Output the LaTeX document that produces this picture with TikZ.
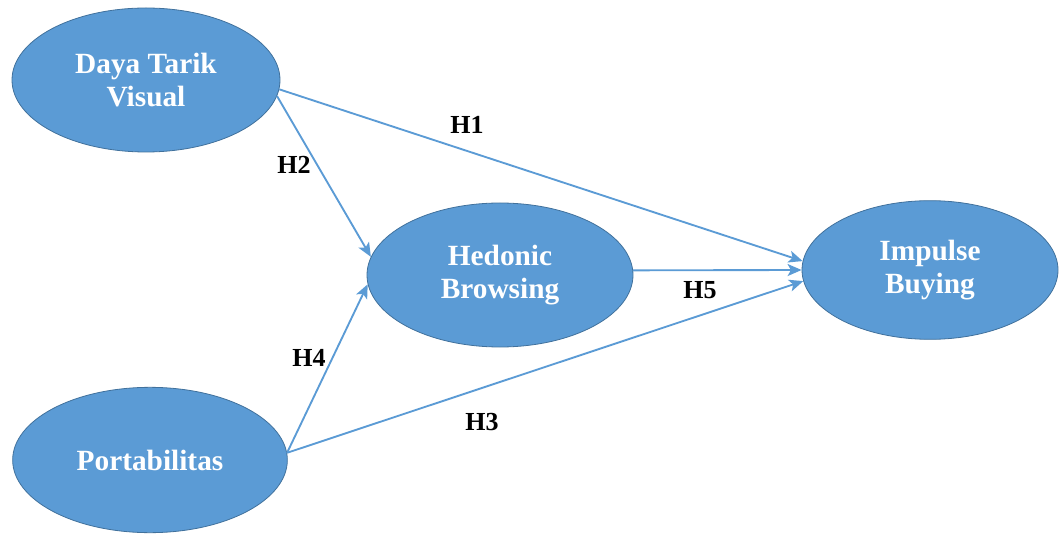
\documentclass[tikz,border=0pt]{standalone}
\usepackage{fontspec}
\setmainfont{Liberation Serif}
\usetikzlibrary{shapes.geometric,arrows.meta}
\definecolor{konstruk}{HTML}{5B9BD5}
\definecolor{tepi}{HTML}{41719C}
\tikzset{
  variabel/.style={ellipse,draw=tepi,line width=0.6pt,fill=konstruk,text=white,
    font=\fontsize{22}{25}\selectfont\bfseries,align=center,inner sep=0pt},
  jalur/.style={draw=konstruk,line width=1.4pt,-{Stealth[length=10.5pt,width=9pt,inset=2.5pt]}},
  hipotesis/.style={font=\fontsize{19.5}{22}\selectfont\bfseries,inner sep=0pt}
}
\begin{document}
\begin{tikzpicture}[x=0.75pt,y=-0.75pt]
  \useasboundingbox (0,0) rectangle (1059,534);
  % konstruk
  \node[variabel,minimum width=201pt,minimum height=108pt] (dtv) at (146,80) {Daya Tarik\\Visual};
  \node[variabel,minimum width=199.5pt,minimum height=108pt] (hb) at (500,275) {Hedonic\\Browsing};
  \node[variabel,minimum width=192pt,minimum height=104pt] (ib) at (930,270) {Impulse\\Buying};
  \node[variabel,minimum width=206pt,minimum height=109pt] (port) at (150,460) {Portabilitas};
  % jalur hipotesis
  \draw[jalur] (dtv.-4) -- (ib.176);
  \draw[jalur] (dtv.-7) -- (hb.172);
  \draw[jalur] (port.3) -- (hb.184);
  \draw[jalur] (port.3) -- (ib.185);
  \draw[jalur] (hb.2) -- (ib.180);
  % label
  \node[hipotesis] (h1) at (467,125) {H1};
  \node[hipotesis] (h2) at (294,165) {H2};
  \node[hipotesis] (h3) at (482,422) {H3};
  \node[hipotesis] (h4) at (309,358) {H4};
  \node[hipotesis] (h5) at (700,290) {H5};
\end{tikzpicture}
\end{document}
